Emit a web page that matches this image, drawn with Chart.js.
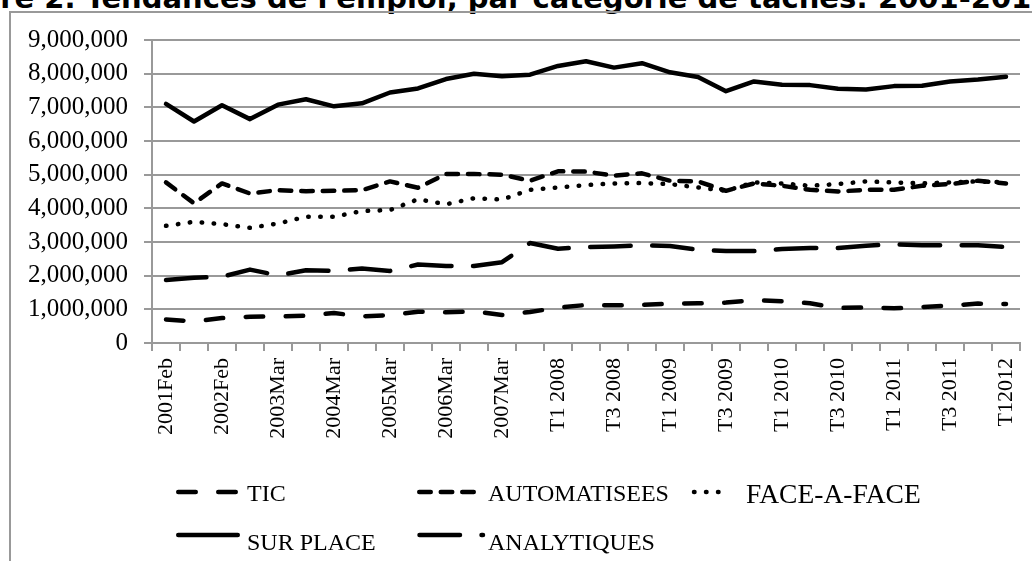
<!DOCTYPE html>
<html>
<head>
<meta charset="utf-8">
<script src="https://cdn.jsdelivr.net/npm/chart.js@4.4.1/dist/chart.umd.min.js"></script>
<style>
    html, body { margin: 0; padding: 0; background: #fff; }
    body { width: 1032px; height: 561px; overflow: hidden; position: relative; }
    .doc-title {
        position: absolute; left: -71px; top: -16px;
        font: bold 29px "DejaVu Sans", sans-serif; line-height: 29px;
        white-space: nowrap; color: #000;
    }
    .frame {
        position: absolute; left: 9px; top: 11px; width: 1100px; height: 600px;
        border-left: 2px solid #999; border-top: 2px solid #999;
    }
    #jobsChart { position: absolute; left: 0; top: 0; }
</style>
</head>
<body>
<div class="doc-title">Figure 2. Tendances de l'emploi, par catégorie de tâches: 2001-2012</div>
<div class="frame"></div>
<canvas id="jobsChart" width="1032" height="561"></canvas>

<script>
const periods = [
    "2001Feb", "2001Aug", "2002Feb", "2002Aug", "2003Mar", "2003Sep", "2004Mar", "2004Sep",
    "2005Mar", "2005Sep", "2006Mar", "2006Sep", "2007Mar", "2007Sep",
    "T1 2008", "T2 2008", "T3 2008", "T4 2008", "T1 2009", "T2 2009", "T3 2009", "T4 2009",
    "T1 2010", "T2 2010", "T3 2010", "T4 2010", "T1 2011", "T2 2011", "T3 2011", "T4 2011",
    "T12012"
];

const tic = [
    700000, 640000, 740000, 780000, 790000, 810000, 890000, 790000, 830000, 930000,
    910000, 940000, 830000, 920000, 1050000, 1130000, 1120000, 1130000, 1170000, 1180000,
    1200000, 1270000, 1240000, 1180000, 1040000, 1060000, 1030000, 1070000, 1110000, 1170000,
    1160000
];

const automatisees = [
    4770000, 4150000, 4740000, 4440000, 4540000, 4510000, 4520000, 4540000, 4800000, 4610000,
    5020000, 5020000, 5000000, 4820000, 5100000, 5090000, 4970000, 5040000, 4820000, 4800000,
    4520000, 4740000, 4670000, 4550000, 4500000, 4550000, 4550000, 4670000, 4720000, 4820000,
    4740000
];

const faceAFace = [
    3480000, 3600000, 3530000, 3420000, 3550000, 3750000, 3750000, 3920000, 3950000, 4270000,
    4120000, 4300000, 4260000, 4550000, 4620000, 4690000, 4740000, 4750000, 4720000, 4620000,
    4520000, 4770000, 4740000, 4670000, 4720000, 4800000, 4770000, 4740000, 4770000, 4800000,
    4770000
];

const surPlace = [
    7100000, 6580000, 7060000, 6650000, 7080000, 7240000, 7030000, 7120000, 7440000, 7560000,
    7840000, 8000000, 7920000, 7970000, 8230000, 8370000, 8180000, 8310000, 8040000, 7900000,
    7480000, 7770000, 7670000, 7660000, 7550000, 7530000, 7630000, 7640000, 7770000, 7830000,
    7910000
];

const analytiques = [
    1870000, 1940000, 1970000, 2180000, 2010000, 2160000, 2140000, 2210000, 2140000, 2330000,
    2290000, 2290000, 2400000, 2970000, 2800000, 2850000, 2870000, 2900000, 2880000, 2770000,
    2730000, 2730000, 2790000, 2820000, 2820000, 2890000, 2930000, 2900000, 2900000, 2900000,
    2850000
];

const yTicks = [0, 1000000, 2000000, 3000000, 4000000, 5000000, 6000000, 7000000, 8000000, 9000000];

document.addEventListener("DOMContentLoaded", () => {

    const ctx = document.getElementById("jobsChart").getContext("2d");

    const serif = "'Liberation Serif', 'Times New Roman', serif";

    // legend placed like the Excel one: two rows, fixed columns
    const legendPos = [
        { x0: 178.25, x1: 235.75, ly: 492, tx: 247, ty: 501, size: 24 },
        { x0: 419.25, x1: 474, ly: 492, tx: 488, ty: 501, size: 24 },
        { x0: 694, x1: 718.5, ly: 492, tx: 746, ty: 502.5, size: 27.5 },
        { x0: 178.25, x1: 237.75, ly: 535, tx: 247, ty: 550, size: 24 },
        { x0: 419.5, x1: 483, ly: 535, tx: 488, ty: 550, size: 24 }
    ];

    const excelLegend = {
        id: "excelLegend",
        afterDraw(chart) {
            const c = chart.ctx;
            chart.data.datasets.forEach((ds, i) => {
                const p = legendPos[i];
                c.save();
                c.strokeStyle = ds.borderColor;
                c.lineWidth = ds.borderWidth;
                c.lineCap = "round";
                c.setLineDash(ds.borderDash || []);
                c.beginPath();
                c.moveTo(p.x0, p.ly);
                c.lineTo(p.x1, p.ly);
                c.stroke();
                c.setLineDash([]);
                c.fillStyle = "#000";
                c.font = p.size + "px " + serif;
                c.textBaseline = "alphabetic";
                c.fillText(ds.label, p.tx, p.ty);
                c.restore();
            });
        }
    };

    function series(label, data, dash) {
        return {
            label: label,
            data: data,
            borderColor: "#000",
            backgroundColor: "#000",
            borderWidth: 4.5,
            borderDash: dash,
            borderCapStyle: "round",
            borderJoinStyle: "round",
            tension: 0,
            pointRadius: 0,
            fill: false
        };
    }

    new Chart(ctx, {
        type: "line",
        data: {
            labels: periods,
            datasets: [
                series("TIC", tic, [17.5, 22.5]),
                series("AUTOMATISEES", automatisees, [11.5, 10]),
                series("FACE-A-FACE", faceAFace, [0.5, 11.5]),
                series("SUR PLACE", surPlace, []),
                series("ANALYTIQUES", analytiques, [40.5, 21.5])
            ]
        },
        options: {
            responsive: false,
            animation: false,
            layout: {
                padding: { left: 28, top: 40, right: 12, bottom: 118 }
            },
            plugins: {
                legend: { display: false },
                tooltip: { enabled: false }
            },
            scales: {
                x: {
                    offset: true,
                    grid: {
                        offset: true,
                        drawOnChartArea: false,
                        drawTicks: true,
                        tickLength: 8,
                        color: "#999",
                        lineWidth: 2
                    },
                    border: { color: "#999", width: 2 },
                    ticks: {
                        autoSkip: false,
                        minRotation: 90,
                        maxRotation: 90,
                        padding: 7,
                        color: "#000",
                        font: { family: serif, size: 22 },
                        callback: function (value, index) {
                            return index % 2 === 0 ? this.getLabelForValue(value) : "";
                        }
                    },
                    afterFit: (scale) => {
                        scale.height = 100;
                        scale.paddingLeft = 0;
                        scale.paddingRight = 0;
                    }
                },
                y: {
                    min: yTicks[0],
                    max: yTicks[yTicks.length - 1],
                    afterBuildTicks: (scale) => {
                        scale.ticks = yTicks.map(v => ({ value: v }));
                    },
                    grid: {
                        color: "#999",
                        lineWidth: 2,
                        tickLength: 8
                    },
                    border: { color: "#999", width: 2 },
                    ticks: {
                        padding: 16,
                        color: "#000",
                        font: { family: serif, size: 25 },
                        callback: (v) => v.toLocaleString("en-US")
                    },
                    afterFit: (scale) => { scale.width = 124; }
                }
            }
        },
        plugins: [excelLegend]
    });
});
</script>
</body>
</html>
